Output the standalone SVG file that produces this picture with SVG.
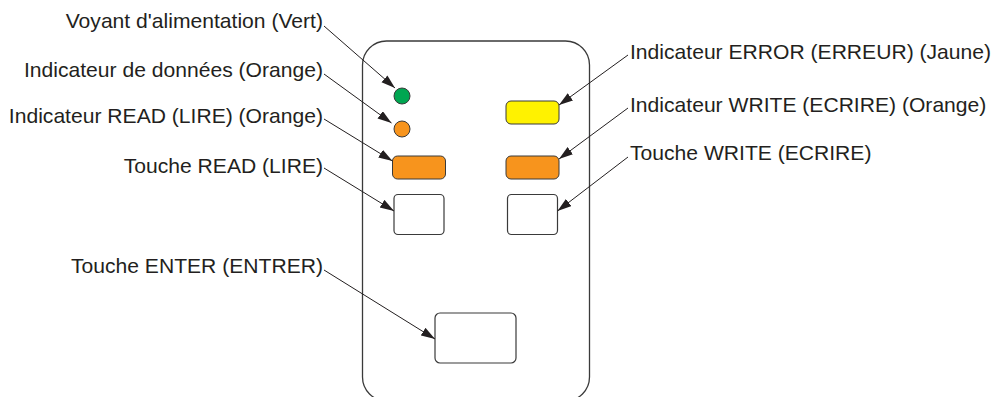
<svg xmlns="http://www.w3.org/2000/svg" width="994" height="397" viewBox="0 0 994 397">
<defs>
<style>
.lbl{font-family:"Liberation Sans",Arial,sans-serif;font-size:21.1px;fill:#231f20}
.end{text-anchor:end}
.body{fill:none;stroke:#3a3a3a;stroke-width:1.3}
.led{stroke:#3a3a3a;stroke-width:1}
.key{fill:#fff;stroke:#3a3a3a;stroke-width:1.2}
.conn line{stroke:#231f20;stroke-width:1;marker-end:url(#arr)}
</style>
<marker id="arr" markerUnits="userSpaceOnUse" markerWidth="15" markerHeight="10" refX="14" refY="4.5" orient="auto">
<path d="M0,0 L14,4.5 L0,9 z" fill="#231f20"/>
</marker>
</defs>
<rect fill="#fff" width="994" height="397"/>
<g id="body"><rect class="body" x="362.5" y="41" width="227" height="360" rx="24" ry="24"/></g>
<g id="power-led"><circle class="led" cx="402" cy="96" r="8" fill="#00a651"/></g>
<g id="data-led"><circle class="led" cx="402" cy="129" r="8" fill="#f7941d"/></g>
<g id="read-led"><rect class="led" x="392.5" y="156" width="53" height="23" rx="5" fill="#f7941d"/></g>
<g id="read-key"><rect class="key" x="394" y="194.5" width="50" height="40" rx="4"/></g>
<g id="error-led"><rect class="led" x="506" y="101" width="53" height="23" rx="5" fill="#fff200"/></g>
<g id="write-led"><rect class="led" x="506" y="156" width="53" height="23" rx="5" fill="#f7941d"/></g>
<g id="write-key"><rect class="key" x="507.5" y="194.5" width="50" height="40" rx="4"/></g>
<g id="enter-key"><rect class="key" x="435" y="313" width="81" height="50" rx="5"/></g>
<g id="labels">
<text class="lbl end" x="323" y="28">Voyant d'alimentation (Vert)</text>
<text class="lbl end" x="323" y="77">Indicateur de données (Orange)</text>
<text class="lbl end" x="323" y="123">Indicateur READ (LIRE) (Orange)</text>
<text class="lbl end" x="323" y="173">Touche READ (LIRE)</text>
<text class="lbl end" x="323" y="273">Touche ENTER (ENTRER)</text>
<text class="lbl" x="630" y="59">Indicateur ERROR (ERREUR) (Jaune)</text>
<text class="lbl" x="630" y="112">Indicateur WRITE (ECRIRE) (Orange)</text>
<text class="lbl" x="630" y="160">Touche WRITE (ECRIRE)</text>
</g>
<g id="connectors" class="conn">
<line x1="324" y1="26" x2="395" y2="88"/>
<line x1="324" y1="74" x2="391.5" y2="123"/>
<line x1="324" y1="119" x2="392.5" y2="161"/>
<line x1="324" y1="168" x2="394" y2="211"/>
<line x1="324" y1="270" x2="435" y2="339"/>
<line x1="628" y1="55" x2="559" y2="105"/>
<line x1="628" y1="108" x2="559" y2="159"/>
<line x1="628" y1="157" x2="557.5" y2="211"/>
</g>
</svg>
